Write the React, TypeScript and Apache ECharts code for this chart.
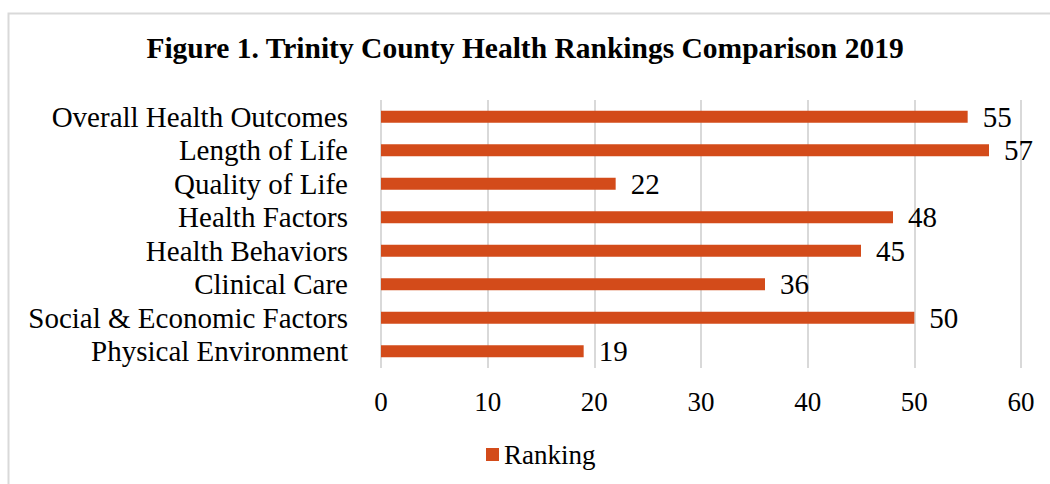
import React, { useEffect, useRef } from "react";
import * as echarts from "echarts";

const categories = [
  "Overall Health Outcomes",
  "Length of Life",
  "Quality of Life",
  "Health Factors",
  "Health Behaviors",
  "Clinical Care",
  "Social & Economic Factors",
  "Physical Environment",
];
const rankings = [55, 57, 22, 48, 45, 36, 50, 19];
const seriesName = "Ranking";
const titleText = "Figure 1. Trinity County Health Rankings Comparison 2019";

const FONT = "'Liberation Serif', 'Times New Roman', serif";

export default function App() {
  const ref = useRef<HTMLDivElement>(null);
  useEffect(() => {
    if (!ref.current) return;
    const chart = echarts.init(ref.current, null, { renderer: "svg" });
    chart.setOption({
      animation: false,
      backgroundColor: "#ffffff",
      textStyle: { fontFamily: FONT },
      title: {
        text: titleText,
        left: "center",
        top: 28,
        textStyle: { fontFamily: FONT, fontWeight: "bold", fontSize: 29.5, color: "#000" },
      },
      graphic: [
        {
          type: "rect",
          shape: { x: 8.5, y: 13.5, width: 1100, height: 520 },
          style: { fill: "none", stroke: "#d9d9d9", lineWidth: 2 },
          silent: true,
        },
      ],
      legend: {
        data: [seriesName],
        left: 486,
        top: 441,
        padding: 0,
        icon: "rect",
        itemWidth: 13,
        itemHeight: 13,
        itemGap: 10,
        textStyle: { fontFamily: FONT, fontSize: 27, color: "#000" },
      },
      grid: { left: 381, right: 29, top: 100, bottom: 116, containLabel: false },
      xAxis: {
        type: "value",
        min: 0,
        max: 60,
        interval: 10,
        axisLine: { show: false },
        axisTick: { show: false },
        splitLine: { show: true, lineStyle: { color: "#d9d9d9", width: 2 } },
        axisLabel: { fontFamily: FONT, fontSize: 27, color: "#000", margin: 20 },
      },
      yAxis: {
        type: "category",
        data: categories,
        inverse: true,
        axisLine: { show: false },
        axisTick: { show: false },
        axisLabel: {
          interval: 0,
          hideOverlap: false,
          fontFamily: FONT,
          fontSize: 29,
          lineHeight: 30,
          color: "#000",
          margin: 33,
        },
      },
      series: [
        {
          name: seriesName,
          type: "bar",
          data: rankings,
          barWidth: 12,
          itemStyle: { color: "#D34B1A" },
          label: {
            show: true,
            position: "right",
            distance: 15,
            fontFamily: FONT,
            fontSize: 29,
            color: "#000",
          },
        },
      ],
    });
    return () => chart.dispose();
  }, []);
  return (
    <div
      ref={ref}
      style={{ position: "fixed", left: 0, top: 0, width: 1050, height: 484 }}
    />
  );
}
